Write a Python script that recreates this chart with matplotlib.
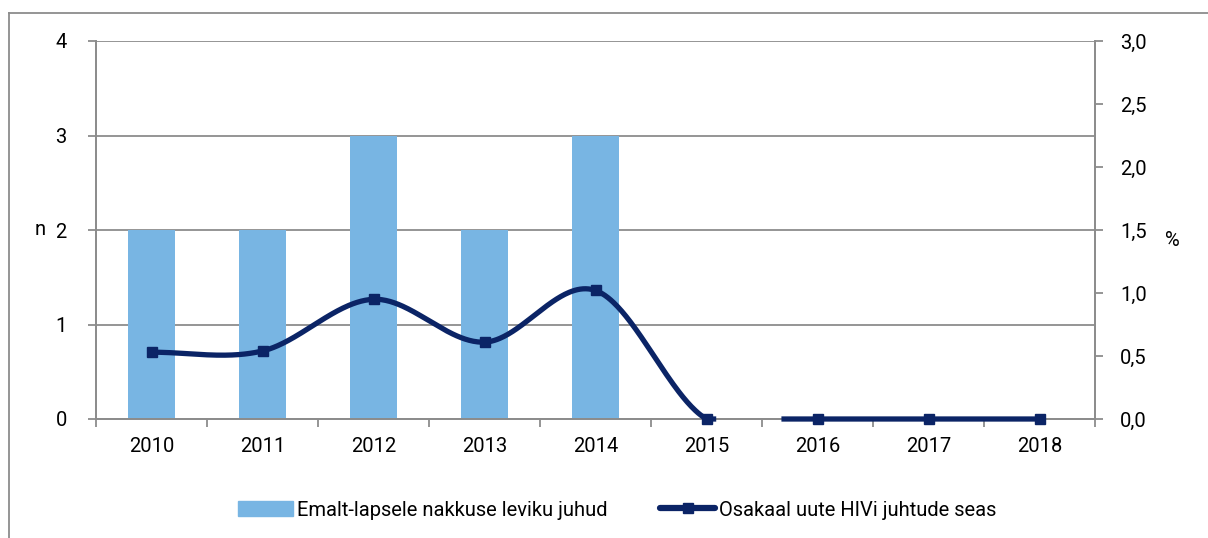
import numpy as np
import matplotlib
matplotlib.use("Agg")
import matplotlib.pyplot as plt
from matplotlib.lines import Line2D
from matplotlib.patches import Patch

plt.rcParams['font.family'] = ['Roboto', 'DejaVu Sans']

years = ['2010', '2011', '2012', '2013', '2014', '2015', '2016', '2017', '2018']
cases = [2, 2, 3, 2, 3, 0, 0, 0, 0]
share = [0.53, 0.54, 0.95, 0.61, 1.02, 0.0, 0.0, 0.0, 0.0]

bar_color = '#78b5e3'
line_color = '#0b2466'
grid_color = '#8c8c8c'
fs = 14.5


def catmull_rom(y, n=80):
    # smoothed line similar to the spreadsheet one
    y = np.asarray(y, dtype=float)
    pts = np.concatenate([[y[0]], y, [y[-1]]])
    xs, ys = [], []
    for i in range(len(y) - 1):
        p0, p1, p2, p3 = pts[i], pts[i + 1], pts[i + 2], pts[i + 3]
        t = np.linspace(0, 1, n, endpoint=False)
        c = 0.5 * ((2 * p1) + (-p0 + p2) * t + (2 * p0 - 5 * p1 + 4 * p2 - p3) * t ** 2
                   + (-p0 + 3 * p1 - 3 * p2 + p3) * t ** 3)
        xs.append(i + t)
        ys.append(c)
    xs.append([len(y) - 1])
    ys.append([y[-1]])
    return np.concatenate(xs), np.concatenate(ys)


fig = plt.figure(figsize=(12.08, 5.38), dpi=100)
ax = fig.add_axes([96 / 1208, 1 - 419 / 538, (1095 - 96) / 1208, (419 - 41) / 538])
ax2 = ax.twinx()

x = np.arange(len(years))
ax.bar(x, cases, width=0.42, color=bar_color, zorder=2)
ax.set_xlim(-0.5, len(years) - 0.5)
ax.set_ylim(0, 4)
ax.set_yticks(range(5))
ax.yaxis.grid(True, color=grid_color, linewidth=1.3, zorder=0)
ax.set_axisbelow(True)

ax.set_xticks(x)
ax.set_xticklabels(years)
ax.set_xticks(np.arange(-0.5, len(years)), minor=True)
ax.tick_params(axis='x', which='major', length=0, pad=13, labelsize=fs)
ax.tick_params(axis='x', which='minor', length=6, color=grid_color, width=1.3)
ax.tick_params(axis='y', length=6, color=grid_color, width=1.3, pad=15, labelsize=fs)

sx, sy = catmull_rom(share)
sy = np.where(sy < -0.038, np.nan, np.maximum(sy, 0))
ax2.plot(sx, sy, color=line_color, linewidth=3.8, clip_on=False, zorder=3,
         solid_capstyle='butt')
ax2.plot(x, share, linestyle='none', marker='s', markersize=7.5, color=line_color,
         clip_on=False, zorder=4)
ax2.set_ylim(0, 3)
ax2.set_yticks(np.arange(0, 3.01, 0.5))
ax2.set_yticklabels([f'{v:.1f}'.replace('.', ',') for v in np.arange(0, 3.01, 0.5)])
ax2.tick_params(axis='y', length=6, color=grid_color, width=1.3, pad=12, labelsize=fs)

for a in (ax, ax2):
    a.spines['top'].set_visible(False)
    for side in ('left', 'right', 'bottom'):
        a.spines[side].set_color(grid_color)
        a.spines[side].set_linewidth(1.3)

fig.text(40 / 1208, 1 - 230 / 538, 'n', fontsize=fs, ha='center', va='center')
fig.text(1172 / 1208, 1 - 240 / 538, '%', fontsize=fs, ha='center', va='center')

# outer frame of the chart area
fig.add_artist(Line2D([9 / 1208, 1], [1 - 13 / 538, 1 - 13 / 538], color=grid_color, linewidth=1.3))
fig.add_artist(Line2D([9 / 1208, 9 / 1208], [0, 1 - 13 / 538], color=grid_color, linewidth=1.3))

handles = [Patch(color=bar_color),
           Line2D([], [], color=line_color, linewidth=4.5, marker='s', markersize=7.5,
                  solid_capstyle='round')]
fig.legend(handles, ['Emalt-lapsele nakkuse leviku juhud', 'Osakaal uute HIVi juhtude seas'],
           loc='center', bbox_to_anchor=(0.511, 1 - 510 / 538), ncol=2, frameon=False,
           fontsize=fs, handlelength=2.75, handletextpad=0.2, columnspacing=2.6)

fig.savefig('out.png', dpi=100)
